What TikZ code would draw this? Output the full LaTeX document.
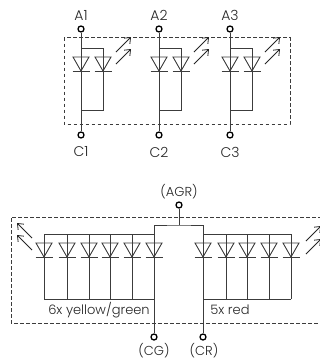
\documentclass[tikz,border=0pt]{standalone}
\usepackage{fontspec}
\setmainfont{Poppins Light}
\usetikzlibrary{arrows.meta}
\definecolor{wire}{HTML}{3C3C3C}
\tikzset{
	wireline/.style={draw=wire, line width=0.9pt},
	frameline/.style={draw=wire, line width=0.8pt, dash pattern=on 3.6pt off 2.4pt},
	pin/.style={circle, draw=black, fill=white, line width=1.3pt, inner sep=0pt, minimum size=6pt},
	lbl/.style={inner sep=0pt, text=black!85, font=\fontsize{13}{13}\selectfont},
	biglbl/.style={lbl, font=\fontsize{14}{14}\selectfont},
	ray/.style={draw=black!85, line width=0.8pt, -{Straight Barb[length=5pt,width=8pt]}},
	pics/diode/.style={code={
		\draw[wireline] (-8,-14) -- (8,-14) -- (0,0) -- cycle;
		\draw[wireline] (-8.5,0) -- (8.5,0);
		\fill[wire] (0,0) circle (1pt);
	}}
}
\begin{document}
\begin{tikzpicture}[x=1pt,y=-1pt]
	\useasboundingbox (0,0) rectangle (320,362);

	% upper part
	\draw[frameline] (64,37.5) rectangle (290,124);
	\foreach \n/\x/\w in {1/81/103, 2/159/181, 3/230/252}{
		\node[pin] (a\n) at (\x,29) {};
		\node[pin] (c\n) at (\x,135) {};
		\node[biglbl] (la\n) at (\x,15) {A\n};
		\node[biglbl] (lc\n) at (\x,152) {C\n};
		\draw[wireline] (a\n) -- (c\n);
		\draw[wireline] (\x,48) -| (\w,110) -- (\x,110);
		\pic at (\x,71) {diode};
		\pic at (\w,71) {diode};
	}
	\foreach \x in {116,194,265}{
		\draw[ray] (\x,52) -- ++(15,-15);
		\draw[ray] (\x,64) -- ++(15,-15);
	}

	% lower part
	\draw[frameline] (322,217) -- (11,217) -- (11,323) -- (322,323);
	\node[pin] (agr) at (179,205) {};
	\node[pin] (cg) at (154,337) {};
	\node[pin] (cr) at (203,337) {};
	\coordinate (top) at (179,225);
	\node[lbl] (lagr) at (179,192) {(AGR)};
	\node[lbl] (lcg) at (154,351) {(CG)};
	\node[lbl] (lcr) at (204,351) {(CR)};
	\draw[wireline] (agr) -- (top);
	\draw[wireline] (cg) |- (top) -| (cr);

	\foreach \x in {44,67,89,110,132,154}{
		\pic at (\x,257) {diode};
		\draw[wireline] (\x,234) -- (\x,299);
	}
	\draw[wireline] (44,234) -- (154,234);
	\draw[wireline] (44,299) -- (154,299);
	\foreach \x in {203,226,247,269,291}{
		\pic at (\x,257) {diode};
		\draw[wireline] (\x,234) -- (\x,299);
	}
	\draw[wireline] (203,234) -- (291,234);
	\draw[wireline] (203,299) -- (291,299);

	\draw[ray] (32,238) -- ++(-15,-15);
	\draw[ray] (32,250) -- ++(-15,-15);
	\draw[ray] (306,241) -- ++(15,-15);
	\draw[ray] (306,254) -- ++(15,-15);

	\node[lbl] (lyg) at (99,310) {6x yellow/green};
	\node[lbl] (lred) at (230,310) {5x red};
\end{tikzpicture}
\end{document}
